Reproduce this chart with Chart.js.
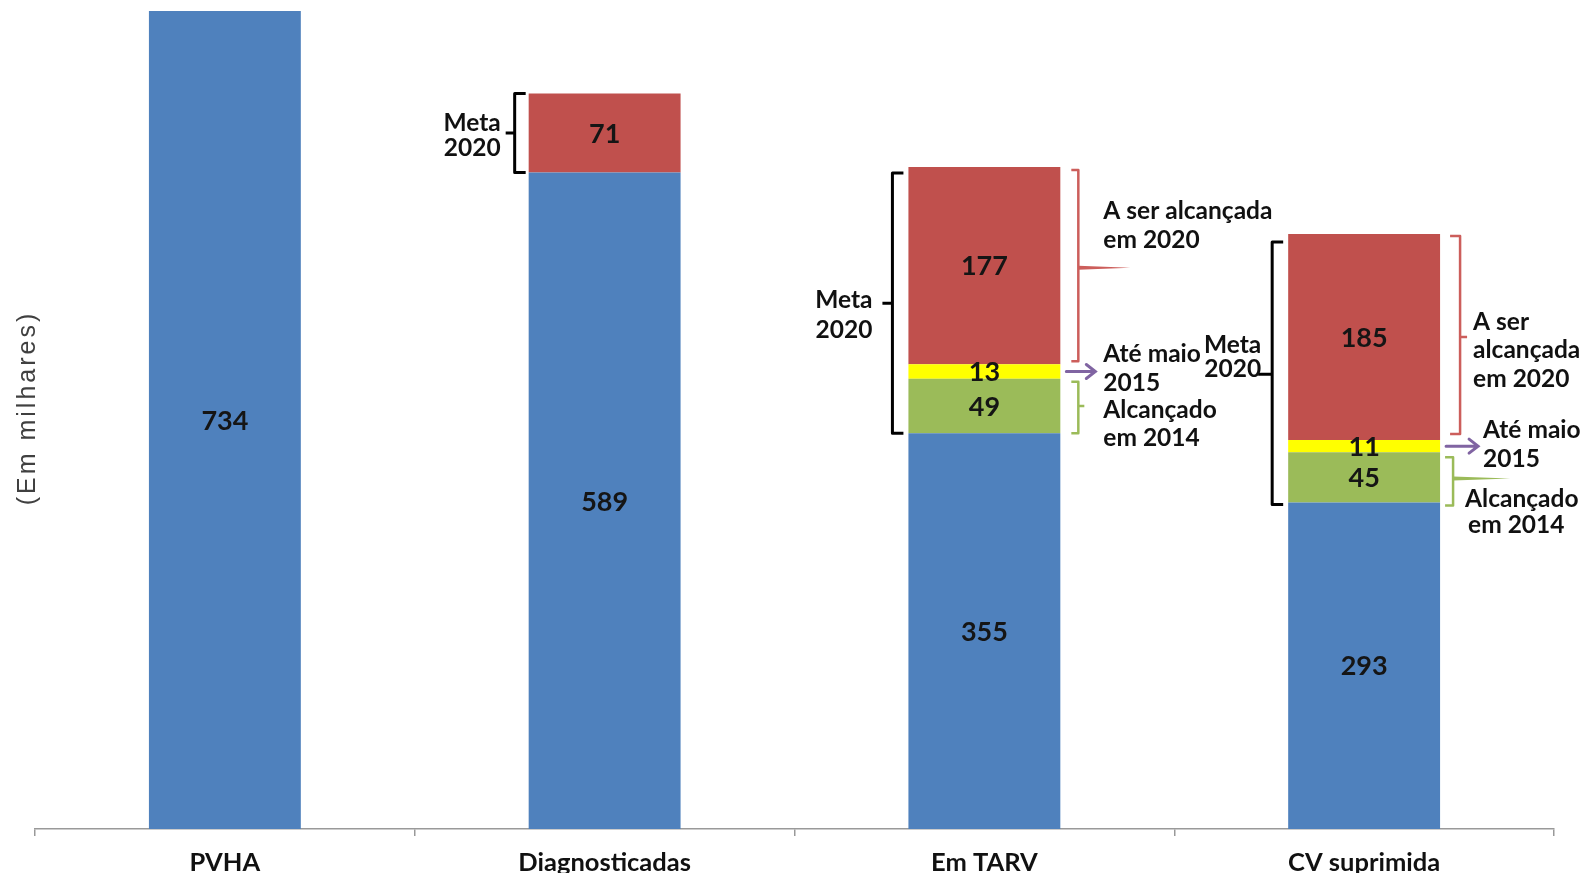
<!DOCTYPE html>
<html>
<head>
<meta charset="utf-8">
<script src="https://cdn.jsdelivr.net/npm/chart.js@4"></script>
<style>
    html, body { margin: 0; padding: 0; background: #fff; }
    #wrap { width: 1581px; height: 873px; }
</style>
</head>
<body>
<div id="wrap"><canvas id="cascadeChart"></canvas></div>
<script>
// ==================== DATA ====================
const categories = ['PVHA', 'Diagnosticadas', 'Em TARV', 'CV suprimida'];
const baseValues = [734, 589, 355, 293];        // blue
const achieved2014 = [null, null, 49, 45];      // green
const untilMay2015 = [null, null, 13, 11];      // yellow
const toReach2020 = [null, 71, 177, 185];       // red
const yAxisTitle = '(Em milhares)';

const BLUE = '#4f81bd';
const GREEN = '#9bbb59';
const YELLOW = '#ffff00';
const RED = '#c0504d';
const PURPLE = '#8064a2';
const TEXT_FONT = 'bold 24.5px Lato';

// ==================== DRAW HELPERS ====================
function seg(chart, datasetIndex, i) {
    let el = chart.getDatasetMeta(datasetIndex).data[i];
    return {
        top: el.y, bottom: el.base, mid: (el.y + el.base) / 2,
        left: el.x - el.width / 2, right: el.x + el.width / 2
    };
}

function bracketLeft(ctx, x, top, bottom, hook, nub, nubY, color) {
    ctx.save();
    ctx.strokeStyle = color;
    ctx.lineWidth = 3;
    ctx.lineJoin = 'round';
    ctx.beginPath();
    ctx.moveTo(x + hook, top);
    ctx.lineTo(x, top);
    ctx.lineTo(x, bottom);
    ctx.lineTo(x + hook, bottom);
    ctx.moveTo(x, nubY);
    ctx.lineTo(x - nub, nubY);
    ctx.stroke();
    ctx.restore();
}

function bracketRight(ctx, x, top, bottom, hook, nub, nubY, color, pointer) {
    ctx.save();
    ctx.strokeStyle = color;
    ctx.fillStyle = color;
    ctx.lineWidth = 2.5;
    ctx.lineJoin = 'round';
    ctx.beginPath();
    ctx.moveTo(x - hook, top);
    ctx.lineTo(x, top);
    ctx.lineTo(x, bottom);
    ctx.lineTo(x - hook, bottom);
    ctx.moveTo(x, nubY);
    ctx.lineTo(x + nub, nubY);
    ctx.stroke();
    if (pointer) {
        ctx.beginPath();
        ctx.moveTo(x, nubY - 2);
        ctx.lineTo(x + pointer, nubY);
        ctx.lineTo(x, nubY + 2);
        ctx.closePath();
        ctx.fill();
    }
    ctx.restore();
}

function arrow(ctx, x1, x2, y) {
    ctx.save();
    ctx.strokeStyle = PURPLE;
    ctx.lineWidth = 3;
    ctx.lineCap = 'round';
    ctx.beginPath();
    ctx.moveTo(x1, y);
    ctx.lineTo(x2, y);
    ctx.moveTo(x2 - 9, y - 7);
    ctx.lineTo(x2, y);
    ctx.lineTo(x2 - 9, y + 7);
    ctx.stroke();
    ctx.restore();
}

function lines(ctx, textLines, x, baselines, align) {
    ctx.save();
    ctx.font = TEXT_FONT;
    ctx.fillStyle = '#111';
    ctx.textAlign = align;
    ctx.textBaseline = 'alphabetic';
    textLines.forEach((t, k) => ctx.fillText(t, x, baselines[k]));
    ctx.restore();
}

// ==================== PLUGINS ====================
const segmentLabels = {
    id: 'segmentLabels',
    afterDatasetsDraw(chart) {
        let ctx = chart.ctx;
        ctx.save();
        ctx.font = 'bold 27px Lato';
        ctx.fillStyle = '#151515';
        ctx.textAlign = 'center';
        ctx.textBaseline = 'middle';
        chart.data.datasets.forEach((ds, di) => {
            chart.getDatasetMeta(di).data.forEach((el, i) => {
                let v = ds.data[i];
                if (v === null || v === undefined) return;
                ctx.fillText(String(v), el.x, (el.y + el.base) / 2 + 1);
            });
        });
        ctx.restore();
    }
};

const yTitle = {
    id: 'yTitle',
    afterDraw(chart) {
        let ctx = chart.ctx;
        ctx.save();
        ctx.translate(28, 408);
        ctx.rotate(-Math.PI / 2);
        ctx.font = '25px "Liberation Sans"';
        ctx.letterSpacing = '3px';
        ctx.fillStyle = '#404040';
        ctx.textAlign = 'center';
        ctx.textBaseline = 'middle';
        ctx.fillText(yAxisTitle, 0, 0);
        ctx.restore();
    }
};

const callouts = {
    id: 'callouts',
    afterDraw(chart) {
        let ctx = chart.ctx;

        // Diagnosticadas
        let r = seg(chart, 3, 1);
        bracketLeft(ctx, r.left - 14, r.top, r.bottom, 11, 9, r.mid, '#000');
        lines(ctx, ['Meta', '2020'], r.left - 28, [r.mid - 2, r.mid + 23], 'right');

        // Em TARV
        r = seg(chart, 3, 2);
        let y = seg(chart, 2, 2);
        let g = seg(chart, 1, 2);
        let m = (r.top + g.bottom) / 2;
        bracketLeft(ctx, r.left - 16, r.top + 6, g.bottom, 11, 10, m + 3, '#000');
        lines(ctx, ['Meta', '2020'], r.left - 36, [m + 8, m + 38], 'right');
        bracketRight(ctx, r.right + 18, r.top + 3, r.bottom - 3, 7, 6, r.mid + 2, '#cc5e5b', 52);
        lines(ctx, ['A ser alcançada', 'em 2020'], r.right + 43, [r.top + 52, r.top + 81], 'left');
        arrow(ctx, r.right + 6, r.right + 35, y.mid);
        lines(ctx, ['Até maio', '2015'], r.right + 43, [y.mid - 10, y.mid + 19], 'left');
        bracketRight(ctx, r.right + 18, g.top + 3, g.bottom, 7, 6, g.mid, GREEN, 0);
        lines(ctx, ['Alcançado', 'em 2014'], r.right + 43, [g.top + 39, g.top + 67], 'left');

        // CV suprimida
        r = seg(chart, 3, 3);
        y = seg(chart, 2, 3);
        g = seg(chart, 1, 3);
        m = (r.top + g.bottom) / 2;
        bracketLeft(ctx, r.left - 16, r.top + 8, g.bottom + 2, 11, 14, m + 6, '#000');
        lines(ctx, ['Meta', '2020'], r.left - 27, [m - 15, m + 9], 'right');
        bracketRight(ctx, r.right + 20, r.top + 2, r.bottom - 6, 10, 7, r.mid, '#cc5e5b', 0);
        lines(ctx, ['A ser', 'alcançada', 'em 2020'], r.right + 33, [r.mid - 7, r.mid + 21, r.mid + 50], 'left');
        arrow(ctx, r.right + 6, r.right + 38, y.mid);
        lines(ctx, ['Até maio', '2015'], r.right + 43, [y.mid - 8, y.mid + 21], 'left');
        bracketRight(ctx, r.right + 13, g.top + 5, g.bottom + 3, 8, 6, g.mid + 1, GREEN, 57);
        lines(ctx, ['Alcançado'], r.right + 25, [g.bottom + 5], 'left');
        lines(ctx, ['em 2014'], r.right + 28, [g.bottom + 31], 'left');
    }
};

// ==================== CHART ====================
document.addEventListener("DOMContentLoaded", function () {
    let ctx = document.getElementById('cascadeChart').getContext('2d');
    new Chart(ctx, {
        type: 'bar',
        data: {
            labels: categories,
            datasets: [
                { label: 'Base', data: baseValues, backgroundColor: BLUE },
                { label: 'Alcançado em 2014', data: achieved2014, backgroundColor: GREEN },
                { label: 'Até maio 2015', data: untilMay2015, backgroundColor: YELLOW },
                { label: 'A ser alcançada em 2020', data: toReach2020, backgroundColor: RED }
            ]
        },
        options: {
            responsive: true,
            maintainAspectRatio: false,
            animation: false,
            datasets: { bar: { barPercentage: 0.4, categoryPercentage: 1.0 } },
            layout: { padding: { left: 35, right: 27, top: 11, bottom: 0 } },
            plugins: {
                legend: { display: false },
                tooltip: { enabled: false }
            },
            scales: {
                x: {
                    stacked: true,
                    afterFit: function (scale) { scale.height = 44; },
                    grid: {
                        offset: true,
                        drawOnChartArea: false,
                        drawTicks: true,
                        tickLength: 7,
                        color: '#999',
                        lineWidth: 1.5
                    },
                    border: { display: true, color: '#999', width: 1.5 },
                    ticks: {
                        color: '#111',
                        font: { family: 'Lato', size: 25.5, weight: 'bold', lineHeight: 1.0 },
                        padding: 14
                    }
                },
                y: {
                    stacked: true,
                    display: false,
                    min: 0,
                    max: 734
                }
            }
        },
        plugins: [segmentLabels, yTitle, callouts]
    });
});
</script>
</body>
</html>
